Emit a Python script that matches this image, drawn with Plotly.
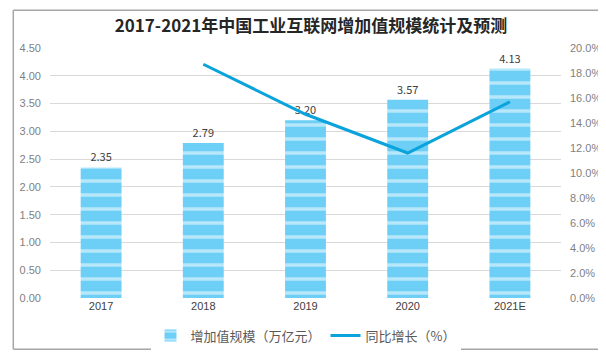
import plotly.graph_objects as go

categories = ["2017", "2018", "2019", "2020", "2021E"]
scale_values = [2.35, 2.79, 3.20, 3.57, 4.13]
growth_years = ["2018", "2019", "2020", "2021E"]
growth_values = [18.7, 14.7, 11.6, 15.7]
left_ticks = [0, 0.5, 1, 1.5, 2, 2.5, 3, 3.5, 4, 4.5]
right_ticks = [0, 2, 4, 6, 8, 10, 12, 14, 16, 18, 20]

W, H = 606, 355
L, R, T, B = 38, 53, 40, 56
pw, ph = W - L - R, H - T - B

fig = go.Figure()
fig.add_trace(go.Bar(
    x=categories, y=scale_values, name="增加值规模（万亿元）",
    width=0.4,
    marker=dict(color="#6DCFF6", line=dict(width=0),
                pattern=dict(shape="-", fgcolor="white", bgcolor="#6DCFF6",
                             size=14, solidity=0.25)),
    text=[f"{v:.2f}" for v in scale_values], textposition="outside",
    textfont=dict(size=11, color="#404040"), cliponaxis=False,
))
fig.add_trace(go.Scatter(
    x=growth_years, y=growth_values, name="同比增长（%）", yaxis="y2",
    mode="lines", line=dict(color="#0BA3DB", width=3),
))

fig.update_layout(
    width=W, height=H, margin=dict(l=L, r=R, t=T, b=B),
    paper_bgcolor="white", plot_bgcolor="white",
    font=dict(family="Noto Sans CJK SC, DejaVu Sans", color="#595959"),
    title=dict(text="<b>2017-2021年中国工业互联网增加值规模统计及预测</b>",
               x=0.5, xanchor="center", y=1 - 18 / H, yanchor="middle",
               font=dict(size=17, color="#262626")),
    bargap=0.6, showlegend=True,
    legend=dict(orientation="h", x=0.5, xanchor="center", y=(ph - (338 - T)) / ph,
                yanchor="middle", font=dict(size=13, color="#595959"),
                itemwidth=30, traceorder="normal"),
    xaxis=dict(type="category", showgrid=False, ticks="", showline=False,
               tickfont=dict(size=11, color="#404040", family="Liberation Sans, DejaVu Sans")),
    yaxis=dict(range=[0, 4.5], tickvals=left_ticks, ticktext=[f"{v:.2f}" for v in left_ticks],
               showgrid=True, gridcolor="#D9D9D9", gridwidth=1, zeroline=False,
               tickfont=dict(size=11, color="#7F7F7F", family="Liberation Sans, DejaVu Sans"),
               ticklabelstandoff=8),
    yaxis2=dict(range=[0, 20], tickvals=right_ticks, ticktext=[f"{v:.1f}%" for v in right_ticks],
                overlaying="y", side="right", showgrid=False, zeroline=False,
                tickfont=dict(size=11, color="#7F7F7F", family="Liberation Sans, DejaVu Sans"),
                ticklabelstandoff=8),
)

xl, xr = (-L + 1) / pw, (W - L - 3) / pw
yb, yt = (ph - (H - 3 - T)) / ph, (ph + T - 1) / ph
for (x0, y0, x1, y1) in [(xl, yb, xl, yt), (xr, yb, xr, yt), (xl, yb, xr, yb), (xl, yt, xr, yt)]:
    fig.add_shape(type="line", xref="paper", yref="paper", x0=x0, y0=y0, x1=x1, y1=y1,
                  line=dict(color="#A6A6A6", width=1.5), layer="above")

fig.write_html("out.html")
